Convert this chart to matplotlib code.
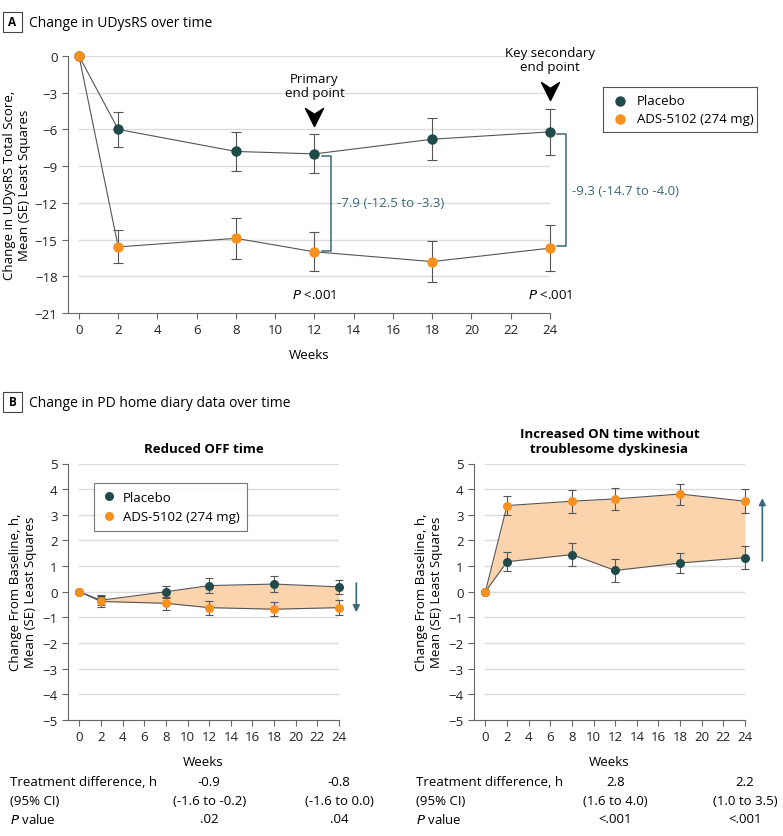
import numpy as np
import matplotlib
matplotlib.use("Agg")
import matplotlib.pyplot as plt
from matplotlib.path import Path
from matplotlib.patches import Rectangle

plt.rcParams['font.family'] = ['Open Sans', 'DejaVu Sans']
plt.rcParams['font.size'] = 9

# ---- data ----
weeks = [0, 2, 8, 12, 18, 24]

# Panel A: UDysRS
udys_placebo = [0, -6.0, -7.8, -8.0, -6.8, -6.2]
udys_placebo_se = [0, 1.4, 1.6, 1.6, 1.7, 1.9]
udys_ads = [0, -15.6, -14.9, -16.0, -16.8, -15.7]
udys_ads_se = [0, 1.35, 1.7, 1.6, 1.65, 1.9]

# Panel B: reduced OFF time
off_placebo = [0, -0.33, 0.0, 0.24, 0.3, 0.19]
off_placebo_se = [0, 0.2, 0.24, 0.28, 0.3, 0.28]
off_ads = [0, -0.38, -0.45, -0.62, -0.68, -0.62]
off_ads_se = [0, 0.2, 0.25, 0.27, 0.27, 0.28]

# Panel B: ON time without troublesome dyskinesia
on_placebo = [0, 1.17, 1.45, 0.83, 1.12, 1.33]
on_placebo_se = [0, 0.37, 0.44, 0.44, 0.39, 0.44]
on_ads = [0, 3.36, 3.53, 3.62, 3.81, 3.53]
on_ads_se = [0, 0.38, 0.45, 0.42, 0.41, 0.47]

off_diff = ["-0.9", "-0.8"]
off_ci = ["(-1.6 to -0.2)", "(-1.6 to 0.0)"]
off_p = [".02", ".04"]
on_diff = ["2.8", "2.2"]
on_ci = ["(1.6 to 4.0)", "(1.0 to 3.5)"]
on_p = ["<.001", "<.001"]

PLACEBO = "#214a4a"
ADS = "#f7901e"
FILL = "#fbd3ad"
TEAL = "#3b6878"
GRID = "#dcdcdc"
SPINE = "#666666"

W, H = 783, 837
fig = plt.figure(figsize=(W / 100, H / 100), dpi=100)


def fx(px):
    return px / W


def fy(py):
    return 1 - py / H


def style_axes(ax, yticks, xlim):
    ax.set_xlim(*xlim)
    ax.set_xticks(range(0, 25, 2))
    ax.set_yticks(yticks)
    for s in ["top", "right"]:
        ax.spines[s].set_visible(False)
    for s in ["left", "bottom"]:
        ax.spines[s].set_color(SPINE)
        ax.spines[s].set_linewidth(0.8)
    ax.tick_params(direction="out", length=4, width=0.8, color=SPINE,
                   labelsize=9.5, labelcolor="#222222")
    for y in yticks:
        if y != yticks[0]:
            ax.plot([0, 24], [y, y], color=GRID, lw=1, zorder=0)


def draw_series(ax, y, se, color, ms, cap):
    ax.plot(weeks, y, color="#555555", lw=0.8, zorder=2)
    eb = ax.errorbar(weeks[1:], y[1:], yerr=se[1:], fmt="none", ecolor="#555555",
                     elinewidth=0.8, capsize=cap, capthick=0.8, zorder=3)
    for art in eb.get_children():
        art.set_clip_on(False)
    ax.plot(weeks, y, "o", color=color, ms=ms, mec="none", zorder=4, clip_on=False)


def box_label(px, py, letter):
    fig.patches.append(Rectangle((fx(px), fy(py + 20)), fx(19), 20 / H,
                                 transform=fig.transFigure, fill=False,
                                 edgecolor="#444444", lw=0.8))
    fig.text(fx(px + 9.5), fy(py + 10), letter, ha="center", va="center",
             fontsize=8.5, fontweight="bold")


# ---- Panel A ----
axA = fig.add_axes([fx(68), fy(314), fx(482), (314 - 57) / H])
style_axes(axA, list(range(-21, 1, 3)), (-0.56, 24))
axA.set_ylim(-21, 0)
draw_series(axA, udys_placebo, udys_placebo_se, PLACEBO, 7.5, 3.5)
draw_series(axA, udys_ads, udys_ads_se, ADS, 7.5, 3.5)
axA.set_xlabel("Weeks", fontsize=9.5, labelpad=8)
axA.set_ylabel("Change in UDysRS Total Score,\nMean (SE) Least Squares",
               fontsize=9.5, labelpad=3)

chevron = Path([(-1, 1), (0, -1), (1, 1), (0, 0.35), (-1, 1)],
               [Path.MOVETO, Path.LINETO, Path.LINETO, Path.LINETO, Path.CLOSEPOLY])
axA.plot([12], [-5.0], marker=chevron, ms=13, color="black", mec="black", clip_on=False)
axA.plot([24], [-2.9], marker=chevron, ms=13, color="black", mec="black", clip_on=False)
axA.text(12, -2.4, "Primary\nend point", ha="center", va="center", fontsize=9.5,
         linespacing=1.15)
axA.text(24, -0.3, "Key secondary\nend point", ha="center", va="center", fontsize=9.5,
         linespacing=1.15, clip_on=False)

# brackets
for x0, x1, ytop, ybot, label, ty in [(12.4, 12.84, -8.2, -15.9, "-7.9 (-12.5 to -3.3)", -12.0),
                                      (24.35, 24.8, -6.4, -15.5, "-9.3 (-14.7 to -4.0)", -11.0)]:
    axA.plot([x0, x1, x1, x0], [ytop, ytop, ybot, ybot], color=TEAL, lw=1.1, clip_on=False)
    axA.text(x1 + 0.3, ty, label, color=TEAL, fontsize=9.5, va="center", clip_on=False)

for x in [12, 24]:
    axA.text(x, -19.5, r"$\it{P}$ <.001", ha="center", va="center", fontsize=9.5)

# legend A (outside plot)
legA = fig.add_axes([fx(603), fy(133), fx(154), 45 / H])
legA.set_xlim(0, 1)
legA.set_ylim(0, 1)
legA.set_xticks([])
legA.set_yticks([])
for s in legA.spines.values():
    s.set_color("#555555")
    s.set_linewidth(0.8)
legA.plot([0.11], [0.7], "o", color=PLACEBO, ms=7.5, mec="none")
legA.plot([0.11], [0.3], "o", color=ADS, ms=7.5, mec="none")
legA.text(0.22, 0.7, "Placebo", va="center", fontsize=9.5)
legA.text(0.22, 0.3, "ADS-5102 (274 mg)", va="center", fontsize=9.5)

box_label(3, 13, "A")
fig.text(fx(29), fy(23.5), "Change in UDysRS over time", va="center", fontsize=10)
box_label(3, 393, "B")
fig.text(fx(29), fy(403.5), "Change in PD home diary data over time", va="center", fontsize=10)

# ---- Panel B ----
b_panels = [
    (68, off_placebo, off_placebo_se, off_ads, off_ads_se, "Reduced OFF time",
     (0.34, -0.8), off_diff, off_ci, off_p),
    (474, on_placebo, on_placebo_se, on_ads, on_ads_se,
     "Increased ON time without\ntroublesome dyskinesia", (1.2, 3.65), on_diff, on_ci, on_p),
]
for left, pl, pl_se, ad, ad_se, title, arrow, diff, ci, pv in b_panels:
    ax = fig.add_axes([fx(left), fy(721), fx(271), (721 - 464.5) / H])
    style_axes(ax, list(range(-5, 6)), (-1.05, 24))
    ax.set_ylim(-5, 5)
    ax.fill_between(weeks, pl, ad, color=FILL, lw=0, zorder=1)
    draw_series(ax, pl, pl_se, PLACEBO, 6.5, 3)
    draw_series(ax, ad, ad_se, ADS, 6.5, 3)
    ax.set_xlabel("Weeks", fontsize=9.5, labelpad=8)
    ax.set_ylabel("Change From Baseline, h,\nMean (SE) Least Squares",
                  fontsize=9.5, labelpad=4)
    ax.set_title(title, fontsize=9.5, fontweight="bold", pad=8, linespacing=1.2)
    ax.annotate("", xy=(25.6, arrow[1]), xytext=(25.6, arrow[0]),
                arrowprops=dict(arrowstyle="-|>", color=TEAL, lw=1.2,
                                mutation_scale=10, shrinkA=0, shrinkB=0),
                annotation_clip=False)
    # table below
    fig.text(fx(left - 58), fy(783), "Treatment difference, h", va="center", fontsize=9.5)
    fig.text(fx(left - 58), fy(802), "(95% CI)", va="center", fontsize=9.5)
    fig.text(fx(left - 58), fy(820), r"$\it{P}$ value", va="center", fontsize=9.5)
    for i, wk in enumerate([12, 24]):
        xp = left + (wk + 1.05) / 25.05 * 271
        fig.text(fx(xp), fy(783), diff[i], ha="center", va="center", fontsize=9.5)
        fig.text(fx(xp), fy(802), ci[i], ha="center", va="center", fontsize=9.5)
        fig.text(fx(xp), fy(820), pv[i], ha="center", va="center", fontsize=9.5)

    if left == 68:
        leg = ax.legend(handles=[
            plt.Line2D([], [], ls="none", marker="o", color=PLACEBO, ms=6.5, mec="none"),
            plt.Line2D([], [], ls="none", marker="o", color=ADS, ms=6.5, mec="none")],
            labels=["Placebo", "ADS-5102 (274 mg)"], loc="upper left",
            bbox_to_anchor=(0.07, 0.95), fancybox=False, fontsize=9.5,
            handletextpad=0.4, borderpad=0.6, labelspacing=0.5, handlelength=1.2)
        leg.get_frame().set_edgecolor("#555555")
        leg.get_frame().set_linewidth(0.8)

fig.savefig("out.png", dpi=100)
